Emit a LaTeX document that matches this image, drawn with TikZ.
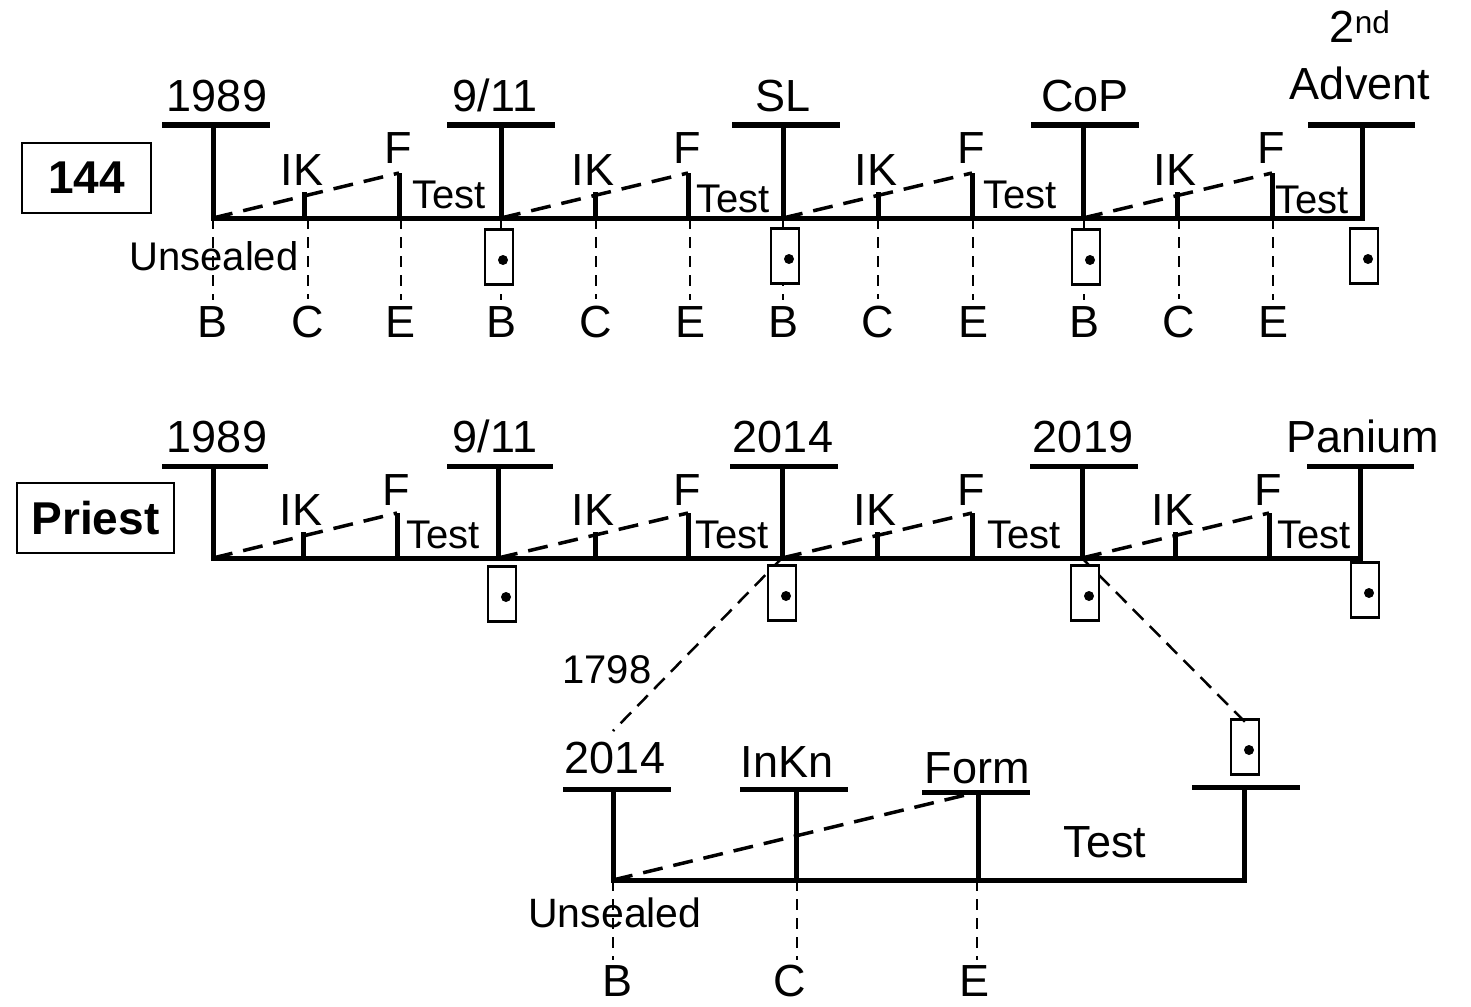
\documentclass[tikz,border=0pt]{standalone}
\usepackage{fontspec}
\setmainfont{Liberation Sans}
\begin{document}
\begin{tikzpicture}[x=1pt,y=-1pt,
  lbl/.style={font=\fontsize{45}{54}\selectfont, anchor=base, inner sep=0pt},
  sm/.style={font=\fontsize{40}{48}\selectfont, anchor=base, inner sep=0pt},
  mainline/.style={line width=5pt, line cap=rect},
  tbar/.style={line width=5pt},
  tickln/.style={line width=5pt},
  diag/.style={line width=3.5pt, dash pattern=on 20pt off 11pt},
  guide/.style={line width=2.5pt, dash pattern=on 11pt off 8pt},
  zoomln/.style={line width=2.5pt, dash pattern=on 15pt off 9pt},
  doorbox/.style={draw, line width=2.5pt, fill=white, minimum width=28pt, minimum height=55pt, inner sep=0pt,
    path picture={\fill[black] ([xshift=4pt,yshift=-3pt]path picture bounding box.center) circle (5pt);}},
  titlebox/.style={draw, line width=2.5pt, font=\fontsize{46}{55}\selectfont\bfseries, inner sep=0pt},
]
\useasboundingbox (0,0) rectangle (1471,1006);

% ---------------- Row 1 (144) ----------------
\node[titlebox, minimum width=129pt, minimum height=70pt] (box144) at (86.5,178) {144};

\foreach \nm/\xx/\lx/\rx in {a/213/162/270, b/501/447/555, c/783/732/840, d/1083/1031/1139, e/1362/1308/1415} {
  \coordinate (r1T\nm) at (\xx,125);
  \coordinate (r1\nm) at (\xx,218);
  \draw[tbar] (\lx,125) -- (\rx,125);
  \draw[mainline] (r1T\nm) -- (r1\nm);
}
\draw[mainline] (r1a) -- (r1e);

\node[lbl] (r1la) at (217,112) {1989};
\node[lbl] (r1lb) at (495,112) {9/11};
\node[lbl] (r1lc) at (783,112) {SL};
\node[lbl] (r1ld) at (1085,112) {CoP};
\node[lbl] (r1le) at (1360,100) {Advent};
\node[lbl] (r1le2) at (1360,43) {2\textsuperscript{nd}};

\foreach \nm/\ii/\ff/\tx/\ty in {a/304/399/449/208, b/595/688/733/212, c/878/972/1020/208, d/1177/1272/1312/213} {
  \coordinate (r1i\nm) at (\ii,218);
  \coordinate (r1it\nm) at (\ii,192);
  \coordinate (r1f\nm) at (\ff,218);
  \coordinate (r1ft\nm) at (\ff,173);
  \draw[tickln] (r1i\nm) -- (r1it\nm);
  \draw[tickln] (r1f\nm) -- (r1ft\nm);
  \draw[diag] (r1\nm) -- (r1ft\nm);
  \node[lbl] (r1ikl\nm) at (\ii-2,185) {IK};
  \node[lbl] (r1fl\nm) at (\ff-1,163) {F};
  \node[sm] (r1test\nm) at (\tx,\ty) {Test};
}

\node[sm] (uns1) at (214,270) {Unsealed};

\foreach \nm/\xx/\ll in {b1/213/B, c1/308/C, e1/401/E, b2/501/B, c2/596/C, e2/690/E, b3/783/B, c3/878/C, e3/973/E, b4/1084/B, c4/1179/C, e4/1273/E} {
  \node[lbl] (r1L\nm) at (\xx,337) {\ll};
  \coordinate (r1G\nm) at (\xx,218);
  \draw[guide] (r1G\nm) -- ([yshift=6pt]r1L\nm.north);
}

\node[doorbox] (r1db) at (499,257) {};
\node[doorbox] (r1dc) at (785,256) {};
\node[doorbox] (r1dd) at (1086,257) {};
\node[doorbox] (r1de) at (1364,256) {};

% ---------------- Row 2 (Priest) ----------------
\node[titlebox, minimum width=157pt, minimum height=70pt] (boxpriest) at (95.5,518) {Priest};

\foreach \nm/\xx/\lx/\rx in {a/213/162/268, b/498/447/553, c/782/730/838, d/1082/1030/1138, e/1360/1307/1414} {
  \coordinate (r2T\nm) at (\xx,466);
  \coordinate (r2\nm) at (\xx,558);
  \draw[tbar] (\lx,466) -- (\rx,466);
  \draw[mainline] (r2T\nm) -- (r2\nm);
}
\draw[mainline] (r2a) -- (r2e);

\node[lbl] (r2la) at (217,452) {1989};
\node[lbl] (r2lb) at (495,452) {9/11};
\node[lbl] (r2lc) at (783,452) {2014};
\node[lbl] (r2ld) at (1083,452) {2019};
\node[lbl] (r2le) at (1363,452) {Panium};

\foreach \nm/\ii/\ff/\tx in {a/303/397/443, b/595/688/732, c/877/972/1024, d/1175/1269/1314} {
  \coordinate (r2i\nm) at (\ii,558);
  \coordinate (r2it\nm) at (\ii,532);
  \coordinate (r2f\nm) at (\ff,558);
  \coordinate (r2ft\nm) at (\ff,513);
  \draw[tickln] (r2i\nm) -- (r2it\nm);
  \draw[tickln] (r2f\nm) -- (r2ft\nm);
  \draw[diag] (r2\nm) -- (r2ft\nm);
  \node[lbl] (r2ikl\nm) at (\ii-2,525) {IK};
  \node[lbl] (r2fl\nm) at (\ff-1,505) {F};
  \node[sm] (r2test\nm) at (\tx,548) {Test};
}

% ---------------- Bottom detail ----------------
\foreach \nm/\xx/\lx/\rx/\ty in {a/613/563/671/789, b/796/740/848/789, c/978/922/1030/792, d/1244/1192/1300/787} {
  \coordinate (bT\nm) at (\xx,\ty);
  \coordinate (bB\nm) at (\xx,880);
  \draw[tbar] (\lx,\ty) -- (\rx,\ty);
  \draw[mainline] (bT\nm) -- (bB\nm);
}
\draw[mainline] (bBa) -- (bBd);
\draw[diag] (bBa) -- (bTc);

\node[lbl] (bla) at (615,773) {2014};
\node[lbl] (blb) at (787,777) {InKn};
\node[lbl] (blc) at (977,783) {Form};
\node[lbl] (btest) at (1105,857) {Test};
\node[sm, font=\fontsize{41}{49}\selectfont] (uns2) at (615,927) {Unsealed};

\foreach \nm/\xx/\lx/\ll in {B/613/617/B, C/797/790/C, E/977/974/E} {
  \node[lbl] (bL\nm) at (\lx,996) {\ll};
  \coordinate (bG\nm) at (\xx,880);
  \coordinate (bGe\nm) at (\xx,960);
  \draw[guide] (bG\nm) -- (bGe\nm);
}

% zoom lines
\coordinate (zAend) at (613,731);
\draw[zoomln] (r2c) -- (zAend);
\node[sm] (l1798) at (607,683) {1798};

\node[doorbox] (bdoor) at (1245,747) {};
\coordinate (zBend) at (1250,727);
\draw[zoomln] (r2d) -- (zBend);

% row 2 doors (drawn last, white filled)
\node[doorbox] (r2db) at (502,594) {};
\node[doorbox] (r2dc) at (782,593) {};
\node[doorbox] (r2dd) at (1085,593) {};
\node[doorbox] (r2de) at (1365,590) {};
\end{tikzpicture}
\end{document}
